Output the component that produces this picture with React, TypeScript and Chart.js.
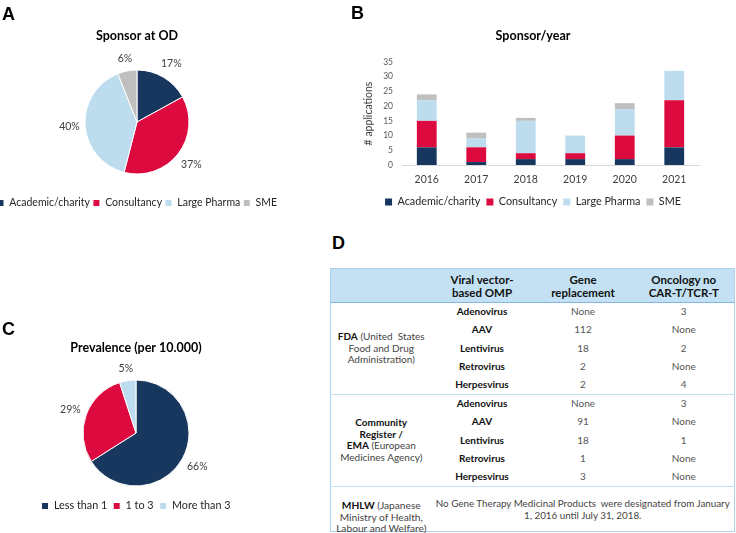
import { useEffect, useRef } from 'react';
import { Chart, registerables } from 'chart.js';

Chart.register(...registerables);

const FONT = 'Lato, "Open Sans", sans-serif';
const TFONT = 'Lato, "Open Sans", sans-serif';

// Panel A
const sponsorLabels = ['Academic/charity', 'Consultancy', 'Large Pharma', 'SME'];
const sponsorColors = ['#17375E', '#DC0A3E', '#BDDDEF', '#BFBFBF'];
const sponsorShare = [17, 37, 40, 6];

// Panel B
const years = ['2016', '2017', '2018', '2019', '2020', '2021'];
const academicPerYear = [6, 1, 2, 2, 2, 6];
const consultancyPerYear = [9, 5, 2, 2, 8, 16];
const largePharmaPerYear = [7, 3, 11, 6, 9, 10];
const smePerYear = [2, 2, 1, 0, 2, 0];
const yAxisMax = 35;
const yAxisStep = 5;

// Panel C
const prevalenceLabels = ['Less than 1', '1 to 3', 'More than 3'];
const prevalenceShare = [66, 29, 5];
const prevalenceColors = ['#17375E', '#DC0A3E', '#BDDDEF'];

// Panel D
const tableHeaders = ['', 'Viral vector-\nbased OMP', 'Gene\nreplacement', 'Oncology no\nCAR-T/TCR-T'];
const vectors = ['Adenovirus', 'AAV', 'Lentivirus', 'Retrovirus', 'Herpesvirus'];
const fdaGene = ['None', '112', '18', '2', '2'];
const fdaOncology = ['3', 'None', '2', 'None', '4'];
const emaGene = ['None', '91', '18', '1', '3'];
const emaOncology = ['3', 'None', '1', 'None', 'None'];
const fdaAgencyLines = [
  { b: 'FDA', r: ' (United  States' },
  { b: '', r: 'Food and Drug' },
  { b: '', r: 'Administration)' },
];
const emaAgencyLines = [
  { b: 'Community', r: '' },
  { b: 'Register /', r: '' },
  { b: 'EMA', r: ' (European' },
  { b: '', r: 'Medicines Agency)' },
];
const mhlwAgencyLines = [
  { b: 'MHLW', r: ' (Japanese' },
  { b: '', r: 'Ministry of Health,' },
  { b: '', r: 'Labour and Welfare)' },
];
const mhlwNote = ['No Gene Therapy Medicinal Products  were designated from January', '1, 2016 until July 31, 2018.'];

const outsideLabels = {
  id: 'outsideLabels',
  afterDatasetsDraw(chart: any) {
    const ctx = chart.ctx;
    const meta = chart.getDatasetMeta(0);
    const data = chart.data.datasets[0].data;
    ctx.save();
    ctx.font = `10.5px ${FONT}`;
    ctx.fillStyle = '#404040';
    ctx.textAlign = 'center';
    ctx.textBaseline = 'middle';
    meta.data.forEach((arc: any, i: number) => {
      const p = arc.getProps(['x', 'y', 'startAngle', 'endAngle', 'outerRadius'], true);
      const mid = (p.startAngle + p.endAngle) / 2;
      const text = data[i] + '%';
      const hw = ctx.measureText(text).width / 2;
      const hh = 6;
      const c = Math.cos(mid);
      const s = Math.sin(mid);
      const d = p.outerRadius + 5 + hw * Math.abs(c) + hh * Math.abs(s);
      ctx.fillText(text, p.x + c * d, p.y + s * d);
    });
    ctx.restore();
  },
};

function legendOpts(size: number, padding: number) {
  return {
    position: 'bottom' as const,
    labels: {
      boxWidth: 7,
      boxHeight: 7,
      padding,
      color: '#262626',
      font: { family: FONT, size },
    },
  };
}

function titleOpts(text: string, top: number, bottom: number) {
  return {
    display: true,
    text,
    color: '#000',
    font: { family: FONT, size: 12.5, weight: 'bold' as const },
    padding: { top, bottom },
  };
}

function pieConfig(
  labels: string[],
  values: number[],
  colors: string[],
  title: string,
  radius: number,
  titlePad: [number, number],
  layoutPad: any,
  legend: [number, number]
): any {
  return {
    type: 'pie',
    data: {
      labels,
      datasets: [
        {
          data: values,
          backgroundColor: colors,
          borderColor: '#ffffff',
          borderWidth: 1,
          hoverOffset: 0,
          radius,
        },
      ],
    },
    options: {
      responsive: false,
      animation: false,
      radius,
      layout: { padding: layoutPad },
      plugins: {
        title: titleOpts(title, titlePad[0], titlePad[1]),
        legend: legendOpts(legend[0], legend[1]),
        tooltip: { enabled: false },
      },
    },
    plugins: [outsideLabels],
  };
}

function barConfig(): any {
  const mk = (label: string, data: number[], color: string) => ({
    label,
    data,
    backgroundColor: color,
    borderWidth: 0,
    categoryPercentage: 0.8,
    barPercentage: 0.5,
  });
  return {
    type: 'bar',
    data: {
      labels: years,
      datasets: [
        mk(sponsorLabels[0], academicPerYear, sponsorColors[0]),
        mk(sponsorLabels[1], consultancyPerYear, sponsorColors[1]),
        mk(sponsorLabels[2], largePharmaPerYear, sponsorColors[2]),
        mk(sponsorLabels[3], smePerYear, sponsorColors[3]),
      ],
    },
    options: {
      responsive: false,
      animation: false,
      layout: { padding: { left: 32, right: 32, top: 0, bottom: 12.6 } },
      plugins: {
        title: titleOpts('Sponsor/year', 28.5, 18.5),
        legend: legendOpts(10.8, 6),
        tooltip: { enabled: false },
      },
      scales: {
        x: {
          stacked: true,
          grid: { display: false, drawTicks: false },
          border: { display: true, color: '#D9D9D9', width: 1 },
          ticks: { color: '#404040', font: { family: FONT, size: 10.5 }, padding: 8.7 },
          afterFit: (s: any) => {
            s.height = 25.6;
          },
        },
        y: {
          stacked: true,
          min: 0,
          max: yAxisMax,
          grid: { display: false, drawTicks: false },
          border: { display: false },
          ticks: { stepSize: yAxisStep, color: '#595959', font: { family: FONT, size: 8.5 }, padding: 9 },
          title: {
            display: true,
            text: '# applications',
            color: '#404040',
            font: { family: FONT, size: 10.5 },
            padding: { top: -4.3, bottom: 0 },
          },
          afterFit: (s: any) => {
            s.width = 35;
          },
        },
      },
    },
  };
}

function useChart(config: () => any) {
  const ref = useRef<HTMLCanvasElement | null>(null);
  useEffect(() => {
    if (!ref.current) return;
    const chart = new Chart(ref.current, config());
    return () => chart.destroy();
  }, []);
  return ref;
}

const letterStyle = (left: number, top: number): any => ({
  position: 'absolute',
  left,
  top,
  fontFamily: '"Liberation Sans", Arial, sans-serif',
  fontWeight: 'bold',
  fontSize: 18,
  lineHeight: '18px',
  color: '#000',
});

const cellBase: any = {
  padding: 0,
  textAlign: 'center',
  verticalAlign: 'middle',
  fontSize: 10,
  lineHeight: '11.6px',
};

type Line = { b: string; r: string };

function AgencyText({ lines }: { lines: Line[] }) {
  return (
    <>
      {lines.map((l, k) => (
        <div key={k} style={{ whiteSpace: 'pre' }}>
          {l.b && <span style={{ fontWeight: 'bold', color: '#111' }}>{l.b}</span>}
          {l.r && <span style={{ color: '#444' }}>{l.r}</span>}
        </div>
      ))}
    </>
  );
}

function GroupRows({ agency, gene, onc }: { agency: Line[]; gene: string[]; onc: string[] }) {
  return (
    <>
      {vectors.map((v, i) => {
        const last = i === vectors.length - 1;
        const bb = last ? '1px solid #BFE0F3' : 'none';
        return (
          <tr key={v} style={{ height: 18.4 }}>
            {i === 0 && (
              <td rowSpan={vectors.length} style={{ ...cellBase, fontSize: 10, borderBottom: '1px solid #BFE0F3' }}>
                <AgencyText lines={agency} />
              </td>
            )}
            <td style={{ ...cellBase, fontWeight: 'bold', color: '#111', borderBottom: bb }}>{v}</td>
            <td style={{ ...cellBase, color: '#555', borderBottom: bb }}>{gene[i]}</td>
            <td style={{ ...cellBase, color: '#555', borderBottom: bb }}>{onc[i]}</td>
          </tr>
        );
      })}
    </>
  );
}

export default function App() {
  const aRef = useChart(() =>
    pieConfig(
      sponsorLabels,
      sponsorShare,
      sponsorColors,
      'Sponsor at OD',
      52,
      [28.5, 5.75],
      { left: 0, right: 4, top: 0, bottom: 11.75 },
      [10.5, 3]
    )
  );
  const bRef = useChart(barConfig);
  const cRef = useChart(() =>
    pieConfig(
      prevalenceLabels,
      prevalenceShare,
      prevalenceColors,
      'Prevalence (per 10.000)',
      53,
      [30.5, 15.9],
      { left: 0, right: 6, top: 0, bottom: 8.6 },
      [10.8, 6]
    )
  );

  return (
    <div style={{ position: 'absolute', left: 0, top: 0, width: 736, height: 533, background: '#fff', overflow: 'hidden' }}>
      <canvas ref={aRef} width={318} height={230} style={{ position: 'absolute', left: -20, top: 0 }} />
      <canvas ref={bRef} width={396} height={230} style={{ position: 'absolute', left: 335, top: 0 }} />
      <canvas ref={cRef} width={278} height={220} style={{ position: 'absolute', left: 0, top: 310 }} />
      <div style={letterStyle(2, 5)}>A</div>
      <div style={letterStyle(351, 4)}>B</div>
      <div style={letterStyle(2, 320)}>C</div>
      <div style={letterStyle(332, 234)}>D</div>

      <table
        style={{
          position: 'absolute',
          left: 330,
          top: 268,
          width: 404,
          borderCollapse: 'collapse',
          tableLayout: 'fixed',
          border: '1.5px solid #A9D3EF',
          fontFamily: TFONT,
        }}
      >
        <colgroup>
          <col style={{ width: 101 }} />
          <col style={{ width: 101 }} />
          <col style={{ width: 101 }} />
          <col style={{ width: 101 }} />
        </colgroup>
        <tbody>
          <tr style={{ height: 34, background: '#C3E1F3' }}>
            {tableHeaders.map((h, i) => (
              <td
                key={i}
                style={{
                  ...cellBase,
                  fontSize: 11.5,
                  lineHeight: '13px',
                  fontWeight: 'bold',
                  color: '#111',
                  borderBottom: '1.5px solid #83B7E0',
                }}
              >
                {h.split('\n').map((l, k) => (
                  <div key={k}>{l}</div>
                ))}
              </td>
            ))}
          </tr>
          <GroupRows agency={fdaAgencyLines} gene={fdaGene} onc={fdaOncology} />
          <GroupRows agency={emaAgencyLines} gene={emaGene} onc={emaOncology} />
          <tr style={{ height: 45 }}>
            <td style={{ ...cellBase, verticalAlign: 'top', fontSize: 10.2 }}>
              <div style={{ position: 'relative', height: 44 }}>
                <div style={{ position: 'absolute', left: 0, right: 0, top: 13 }}>
                  <AgencyText lines={mhlwAgencyLines} />
                </div>
              </div>
            </td>
            <td colSpan={3} style={{ ...cellBase, verticalAlign: 'top', fontSize: 9.8 }}>
              <div style={{ position: 'relative', height: 44 }}>
                <div style={{ position: 'absolute', left: 0, right: 0, top: 11, color: '#444' }}>
                  {mhlwNote.map((l, k) => (
                    <div key={k} style={{ whiteSpace: 'pre' }}>
                      {l}
                    </div>
                  ))}
                </div>
              </div>
            </td>
          </tr>
        </tbody>
      </table>
    </div>
  );
}
